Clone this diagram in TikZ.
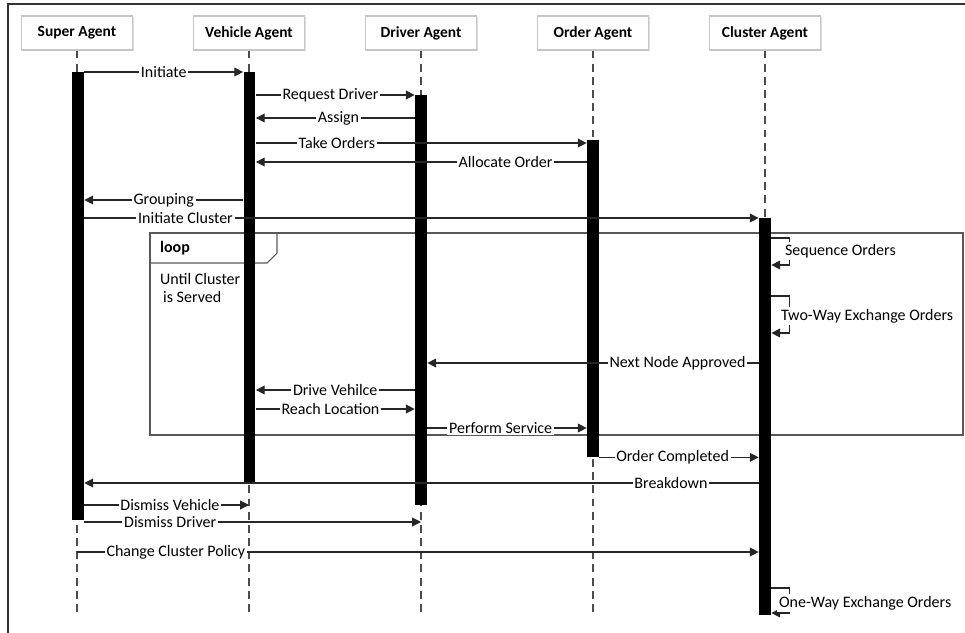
\documentclass[tikz,border=0pt]{standalone}
\usepackage{fontspec}
\setmainfont{Carlito}
\usetikzlibrary{arrows.meta,shadows}

\tikzset{
  agent/.style={draw=gray!45, fill=white, line width=0.6pt,
    minimum width=2.22cm, minimum height=0.68cm,
    font=\fontsize{8.8}{10}\selectfont\bfseries,
    drop shadow={shadow xshift=0.6pt, shadow yshift=-0.6pt, opacity=0.25}},
  bar/.style={fill=black, minimum width=0.24cm, inner sep=0pt},
  life/.style={line width=0.8pt, black!70, dash pattern=on 4.5pt off 3pt},
  msg/.style={->, line width=0.6pt, draw=black!85},
  lbl/.style={fill=white, inner sep=1pt},
  frag/.style={line width=0.6pt, draw=black!65},
}
% activation bar: name, x, top, bottom (px)
\newcommand\actbar[4]{%
  \node[bar, minimum height={(#4-#3)*0.02cm}] (#1) at (#2,{(#3+#4)/2}) {};}

\begin{document}
\begin{tikzpicture}[x=0.02cm, y=-0.02cm, font=\fontsize{9.1}{11}\selectfont,
    >={Triangle[length=5pt,width=5pt]}]
  \useasboundingbox (0,0) rectangle (965,633);
  \draw[line width=1.2pt, black!80] (8,633) -- (8,4) -- (965,4);

  % ----- agents -----
  \node[agent] (sa) at (77,33)  {Super Agent};
  \node[agent] (va) at (249,33) {Vehicle Agent};
  \node[agent] (da) at (421,33) {Driver Agent};
  \node[agent] (oa) at (593,33) {Order Agent};
  \node[agent] (ca) at (765,33) {Cluster Agent};

  \foreach \a in {sa,va,da,oa,ca}
    \draw[life] (\a.south) -- (\a.south |- 0,615);

  % ----- loop fragment -----
  \draw[frag] (150,233) rectangle (963,435);
  \draw[frag] (150,263) -- (267,263) -- (277,253) -- (277,233);
  \node[anchor=west, font=\fontsize{9.1}{11}\selectfont\bfseries] (lp) at (154,248) {loop};
  \node[anchor=west] (g1) at (154,279) {Until Cluster};
  \node[anchor=west] (g2) at (157,297) {is Served};

  % ----- activation bars -----
  \actbar{sbar}{78}{72}{520}
  \actbar{vbar}{249.5}{72}{483}
  \actbar{dbar}{421}{95}{505}
  \actbar{obar}{593}{140}{457}
  \actbar{cbar}{765}{218}{615}

  % ----- messages -----
  \draw[msg] (sbar.east |- 0,72)  -- (vbar.west |- 0,72)  node[lbl, pos=0.5]  {Initiate};
  \draw[msg] (vbar.east |- 0,95)  -- (dbar.west |- 0,95)  node[lbl, pos=0.47] {Request Driver};
  \draw[msg] (dbar.west |- 0,118) -- (vbar.east |- 0,118) node[lbl, pos=0.48] {Assign};
  \draw[msg] (vbar.east |- 0,143) -- (obar.west |- 0,143) node[lbl, pos=0.245] {Take Orders};
  \draw[msg] (obar.west |- 0,162) -- (vbar.east |- 0,162) node[lbl, pos=0.245] {Allocate Order};
  \draw[msg] (vbar.west |- 0,200) -- (sbar.east |- 0,200) node[lbl, pos=0.5]  {Grouping};
  \draw[msg] (sbar.east |- 0,218) -- (cbar.west |- 0,218) node[lbl, pos=0.15] {Initiate Cluster};

  \draw[msg] (cbar.east |- 0,238) -- ++(18,0) -- ++(0,27) -- (cbar.east |- 0,265);
  \node[lbl, anchor=west] (seq) at (783,251) {Sequence Orders};
  \draw[msg] (cbar.east |- 0,296) -- ++(18,0) -- ++(0,37) -- (cbar.east |- 0,333);
  \node[lbl, anchor=west] (two) at (779,316) {Two-Way Exchange Orders};

  \draw[msg] (cbar.west |- 0,363) -- (dbar.east |- 0,363) node[lbl, pos=0.245] {Next Node Approved};
  \draw[msg] (dbar.west |- 0,390) -- (vbar.east |- 0,390) node[lbl, pos=0.5]  {Drive Vehilce};
  \draw[msg] (vbar.east |- 0,409) -- (dbar.west |- 0,409) node[lbl, pos=0.47] {Reach Location};
  \draw[msg] (dbar.east |- 0,428) -- (obar.west |- 0,428) node[lbl, pos=0.46] {Perform Service};
  \draw[msg] (obar.south east) -- (cbar.west |- obar.south) node[lbl, pos=0.46] {Order Completed};
  \draw[msg] (cbar.west |- 0,483) -- (sbar.east |- 0,483) node[lbl, pos=0.13] {Breakdown};
  \draw[msg] (sbar.east |- 0,505) -- (va |- 0,505) node[lbl, pos=0.52] {Dismiss Vehicle};
  \draw[msg] (sbar.east |- 0,522) -- (da |- 0,522) node[lbl, pos=0.255] {Dismiss Driver};
  \draw[msg] (sa |- 0,552) -- (cbar.west |- 0,552) node[lbl, pos=0.145] {Change Cluster Policy};

  \draw[msg] (cbar.east |- 0,588) -- ++(18,0) -- ++(0,25) -- (cbar.east |- 0,613);
  \node[lbl, anchor=west] (one) at (777,603) {One-Way Exchange Orders};
\end{tikzpicture}
\end{document}
